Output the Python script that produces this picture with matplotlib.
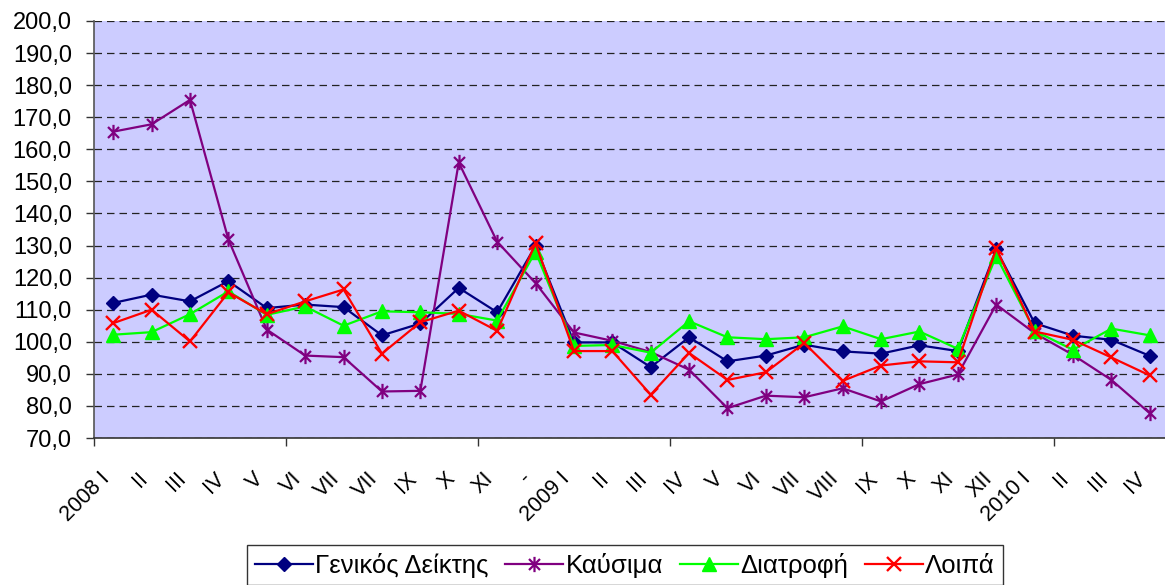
import matplotlib
matplotlib.use("Agg")
import matplotlib.pyplot as plt
import numpy as np
from matplotlib.path import Path
from matplotlib.ticker import FuncFormatter, MultipleLocator
from matplotlib.transforms import ScaledTranslation

plt.rcParams['font.family'] = ['Liberation Sans', 'DejaVu Sans']

labels = ["2008 I", "II", "III", "IV", "V", "VI", "VII", "VII", "IX", "X", "XI", "-",
          "2009 I", "II", "III", "IV", "V", "VI", "VII", "VIII", "IX", "X", "XI", "XII",
          "2010 I", "II", "III", "IV"]

genikos = [112.1, 114.7, 112.6, 118.9, 110.5, 111.6, 110.8, 102.0, 105.7, 116.8, 109.2, 129.9,
           99.8, 99.8, 92.1, 101.4, 93.9, 95.7, 99.1, 97.0, 96.3, 98.9, 97.1, 128.8,
           105.8, 101.9, 100.6, 95.6]
kafsima = [165.5, 167.8, 175.4, 131.9, 103.8, 95.7, 95.2, 84.5, 84.7, 155.9, 131.2, 118.3,
           102.9, 100.3, 96.8, 91.3, 79.3, 83.2, 82.7, 85.5, 81.4, 86.8, 89.8, 111.6,
           102.7, 95.9, 88.1, 77.7]
diatrofi = [102.2, 103.0, 108.6, 115.7, 108.4, 111.0, 105.0, 109.5, 109.2, 108.7, 106.6, 128.1,
            98.7, 99.0, 96.6, 106.4, 101.4, 100.8, 101.4, 104.8, 100.8, 103.2, 97.8, 126.7,
            103.4, 97.5, 104.1, 102.0]
loipa = [105.8, 110.0, 100.1, 115.4, 108.6, 112.6, 116.3, 96.3, 106.1, 109.7, 103.4, 130.7,
         97.1, 97.1, 83.5, 96.5, 88.1, 90.5, 99.6, 87.8, 92.6, 93.9, 93.6, 129.1,
         103.2, 100.6, 95.1, 89.5]

series_names = ["Γενικός Δείκτης", "Καύσιμα", "Διατροφή", "Λοιπά"]

W, H = 1165, 585
fig = plt.figure(figsize=(W / 100, H / 100), dpi=100)
ax = fig.add_axes([94 / W, 1 - 438 / H, (1169 - 94) / W, (438 - 21) / H])
ax.set_facecolor('#CCCCFF')

# asterisk marker (Excel "star")
star = Path([(0, -1), (0, 1), (-0.72, -0.72), (0.72, 0.72), (-0.72, 0.72), (0.72, -0.72)],
            [Path.MOVETO, Path.LINETO, Path.MOVETO, Path.LINETO, Path.MOVETO, Path.LINETO])

x = np.arange(len(labels))
ax.plot(x, genikos, color='#000080', lw=1.6, marker='D', ms=7, mfc='#000080', mec='#000080',
        label=series_names[0], zorder=3)
ax.plot(x, kafsima, color='#800080', lw=1.6, marker=star, ms=11, mfc='none', mec='#800080',
        mew=1.6, label=series_names[1], zorder=4)
ax.plot(x, diatrofi, color='#00FF00', lw=1.6, marker='^', ms=10, mfc='#00FF00', mec='#00FF00',
        label=series_names[2], zorder=5)
ax.plot(x, loipa, color='#FF0000', lw=1.6, marker='x', ms=9.5, mec='#FF0000', mew=1.7,
        label=series_names[3], zorder=6)

ax.set_xlim(-0.5, len(labels) - 0.5)
ax.set_ylim(70, 200)
ax.yaxis.set_major_locator(MultipleLocator(10))
ax.yaxis.set_major_formatter(FuncFormatter(lambda v, _: f"{v:.1f}".replace('.', ',')))
ax.tick_params(axis='y', which='major', length=6, width=1, color='#333333', pad=10,
               labelsize=17, direction='out')

# gridlines
ax.grid(axis='y', color='#222222', linestyle=(0, (6, 4)), lw=0.9)
gl = ax.get_ygridlines()
gl[0].set_visible(False)
gl[-1].set_visible(False)

# x ticks: boundaries every 5 categories, labels at each category
ax.set_xticks(np.arange(-0.5, len(labels), 5))
ax.set_xticklabels([])
ax.tick_params(axis='x', which='major', length=6, width=1, color='#333333', direction='out')
ax.set_xticks(x, minor=True)
ax.set_xticklabels(labels, minor=True, rotation=45, ha='right', va='center',
                   rotation_mode='anchor', fontsize=15.5)
ax.tick_params(axis='x', which='minor', length=0, pad=27)
off = ScaledTranslation(-7 / 100, 0, fig.dpi_scale_trans)
for t in ax.get_xticklabels(minor=True):
    t.set_transform(t.get_transform() + off)

for s in ['top', 'right']:
    ax.spines[s].set_visible(False)
ax.spines['left'].set_color('#555555')
ax.spines['bottom'].set_color('#333333')
ax.spines['left'].set_linewidth(1.2)
ax.spines['bottom'].set_linewidth(1.2)

leg = fig.legend(loc='upper left', bbox_to_anchor=(247 / W, 1 - 545 / H), ncol=4,
                 fontsize=18.5, frameon=True, fancybox=False, shadow=False,
                 handlelength=2.25, handletextpad=0.1, columnspacing=0.65,
                 borderpad=0.3, borderaxespad=0)
leg.get_frame().set_edgecolor('black')
leg.get_frame().set_linewidth(1.0)

fig.savefig('out.png', dpi=100, facecolor='white')
